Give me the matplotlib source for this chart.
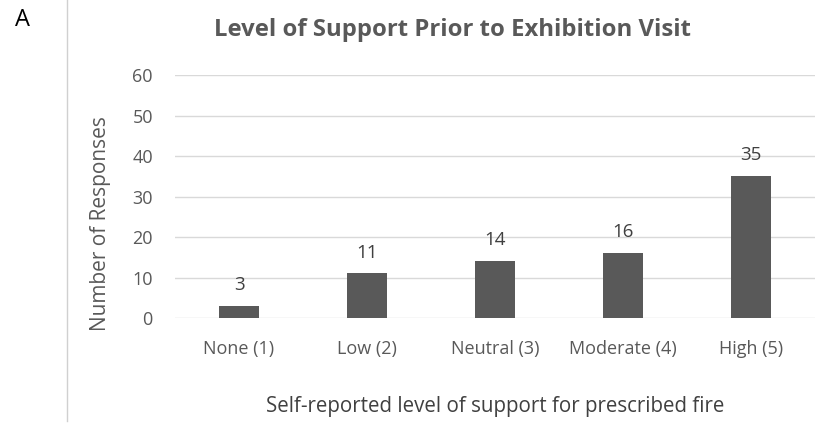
import matplotlib.pyplot as plt
from matplotlib.lines import Line2D

categories = ["None (1)", "Low (2)", "Neutral (3)", "Moderate (4)", "High (5)"]
responses = [3, 11, 14, 16, 35]
y_ticks = [0, 10, 20, 30, 40, 50, 60]

BAR_COLOR = "#595959"
TEXT_COLOR = "#595959"
GRID_COLOR = "#d9d9d9"

plt.rcParams["font.family"] = ["Open Sans", "DejaVu Sans"]

fig = plt.figure(figsize=(8.28, 4.23), dpi=100)
ax = fig.add_axes([0.2114, 0.2482, 0.7729, 0.5745])

x = range(len(categories))
bars = ax.bar(x, responses, width=0.31, color=BAR_COLOR, zorder=3)
for rect, val in zip(bars, responses):
    ax.annotate(str(val), (rect.get_x() + rect.get_width() / 2, val),
                xytext=(0, 15), textcoords="offset points",
                ha="center", va="center", fontsize=13.5, color="#404040")

ax.set_xlim(-0.5, len(categories) - 0.5)
ax.set_ylim(0, 60)
ax.set_yticks(y_ticks)
ax.set_xticks(list(x))
ax.set_xticklabels(categories)
ax.tick_params(length=0, labelsize=13, labelcolor=TEXT_COLOR)
ax.tick_params(axis="x", pad=16)
ax.tick_params(axis="y", pad=16)
ax.grid(axis="y", color=GRID_COLOR, linewidth=1, zorder=0)
for side in ax.spines.values():
    side.set_visible(False)

ax.set_ylabel("Number of Responses", fontsize=15, color=TEXT_COLOR)
ax.yaxis.set_label_coords(-0.100, 0.387)
ax.set_xlabel("Self-reported level of support for prescribed fire",
              fontsize=14.8, color="#404040", labelpad=27)
fig.text(0.547, 0.928, "Level of Support Prior to Exhibition Visit",
         ha="center", va="center", fontsize=17.2, fontweight="bold",
         color=TEXT_COLOR)

# panel letter and the divider line on its right
fig.text(0.027, 0.952, "A", ha="center", va="center", fontsize=17, color="black")
fig.add_artist(Line2D([0.081, 0.081], [0.005, 1.0], color="#d0d0d0",
                      linewidth=1, transform=fig.transFigure))

fig.savefig("out.png", dpi=100)
